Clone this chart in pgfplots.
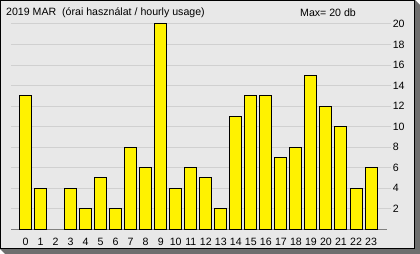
\documentclass[border=0pt]{standalone}
\usepackage{pgfplots}
\pgfplotsset{compat=1.18}
\usepackage{fontspec}
\setmainfont{Liberation Sans}
\definecolor{panel}{HTML}{E8E8E8}
\definecolor{shadow}{HTML}{6E6E6E}
\definecolor{gridc}{HTML}{D0D0D0}
\definecolor{basec}{HTML}{808080}
\begin{document}%
\begin{tikzpicture}[x=1pt,y=1pt,font=\fontsize{10.6}{12}\selectfont]
\useasboundingbox (0,0) rectangle (420,254);
\fill[shadow] (415,254) -- (420,249) -- (420,0) -- (5,0) -- (0,5) -- (415,5) -- cycle;
\fill[panel] (0,5) rectangle (415,254);
\draw[black,line width=1.2pt] (0.6,5.6) rectangle (414.4,253.4);
\begin{axis}[
  at={(7.5,24)}, anchor=south west,
  scale only axis, width=376pt, height=205.5pt,
  xmin=-0.946, xmax=24.08, ymin=0, ymax=20,
  enlargelimits=false,
  axis x line*=bottom, axis y line*=right,
  x axis line style={basec, line width=1pt, -},
  y axis line style={draw=none},
  ybar, bar width=12pt, bar shift=0pt,
  xtick={0,...,23}, xtick style={draw=none},
  ytick={2,4,...,20},
  ytick style={gridc, line width=0.8pt},
  tick align=outside, major tick length=4pt,
  ymajorgrids, grid style={gridc, line width=0.8pt},
  /pgf/number format/assume math mode=true,
  tick label style={font=\fontsize{10.6}{12}\selectfont},
  xticklabel style={yshift=-1pt},
  yticklabel style={xshift=-2pt},
  clip=false,
]
\addplot[fill=yellow, draw=black, line width=1pt] coordinates {
(0,13) (1,4) (3,4) (4,2) (5,5) (6,2) (7,8) (8,6) (9,20) (10,4) (11,6)
(12,5) (13,2) (14,11) (15,13) (16,13) (17,7) (18,8) (19,15) (20,12)
(21,10) (22,4) (23,6)
};
\end{axis}
\node[anchor=west, inner sep=0pt] at (6,241) {2019 MAR\ \ (órai használat / hourly usage)};
\node[anchor=west, inner sep=0pt] at (300,241) {Max= 20 db};
\end{tikzpicture}%
\end{document}
